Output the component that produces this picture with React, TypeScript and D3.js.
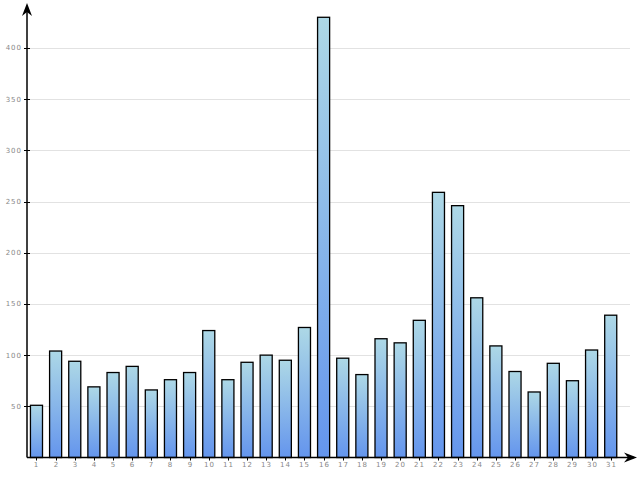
import React from "react";
import * as d3 from "d3";

const categories: string[] = Array.from({ length: 31 }, (_, i) => String(i + 1));
const values: number[] = [
  51, 104, 94, 69, 83, 89, 66, 76, 83, 124, 76, 93, 100, 95, 127, 430, 97, 81, 116, 112,
  134, 259, 246, 156, 109, 84, 64, 92, 75, 105, 139,
];
const yTicks: number[] = [50, 100, 150, 200, 250, 300, 350, 400];

const W = 640;
const H = 480;
const x0 = 27;
const yBase = 457.5;

export default function App() {
  const x = d3
    .scaleBand<string>()
    .domain(categories)
    .range([x0, 620.2])
    .paddingInner(0.37)
    .paddingOuter(0.18);
  const y = d3.scaleLinear().domain([0, 400]).range([yBase, 48]);
  const bw = x.bandwidth();

  return (
    <svg
      width={W}
      height={H}
      style={{ position: "absolute", left: 0, top: 0 }}
      fontFamily="DejaVu Sans, sans-serif"
    >
      <defs>
        <linearGradient id="barGrad" x1="0" y1="0" x2="0" y2="1">
          <stop offset="0%" stopColor="#add8e6" />
          <stop offset="100%" stopColor="#6495ed" />
        </linearGradient>
      </defs>
      {yTicks.map((t) => (
        <g key={t}>
          <line x1={x0} x2={630} y1={Math.round(y(t)) + 0.5} y2={Math.round(y(t)) + 0.5} stroke="#e2e2e2" strokeWidth={1} />
          <line x1={x0 - 3} x2={x0 + 3} y1={Math.round(y(t)) + 0.5} y2={Math.round(y(t)) + 0.5} stroke="#000" strokeWidth={1} />
          <text
            x={x0 - 5}
            y={y(t)}
            dy="0.35em"
            textAnchor="end"
            fontSize={7}
            fill="#888"
            letterSpacing={1}
          >
            {t}
          </text>
        </g>
      ))}
      {values.map((v, i) => {
        const c = categories[i];
        const xx = x(c)!;
        return (
          <rect
            key={c}
            x={xx}
            y={y(v)}
            width={bw}
            height={yBase - y(v)}
            fill="url(#barGrad)"
            stroke="#000"
            strokeWidth={1.3}
          />
        );
      })}
      {categories.map((c) => {
        const cx = Math.round(x(c)! + bw / 2) + 0.5;
        return (
          <g key={c}>
            <line x1={cx} x2={cx} y1={yBase} y2={yBase + 3} stroke="#000" strokeWidth={1} />
            <text x={cx} y={467} textAnchor="middle" fontSize={7} fill="#888" letterSpacing={1}>
              {c}
            </text>
          </g>
        );
      })}
      {/* axes */}
      <line x1={x0} x2={x0} y1={yBase} y2={6} stroke="#000" strokeWidth={1.5} />
      <line x1={x0} x2={634} y1={yBase} y2={yBase} stroke="#000" strokeWidth={1.5} />
      <path d={`M${x0},3 L${x0 - 5},16 L${x0},12 L${x0 + 5},16 Z`} fill="#000" />
      <path d={`M637,${yBase} L624,${yBase - 5} L628,${yBase} L624,${yBase + 5} Z`} fill="#000" />
    </svg>
  );
}
